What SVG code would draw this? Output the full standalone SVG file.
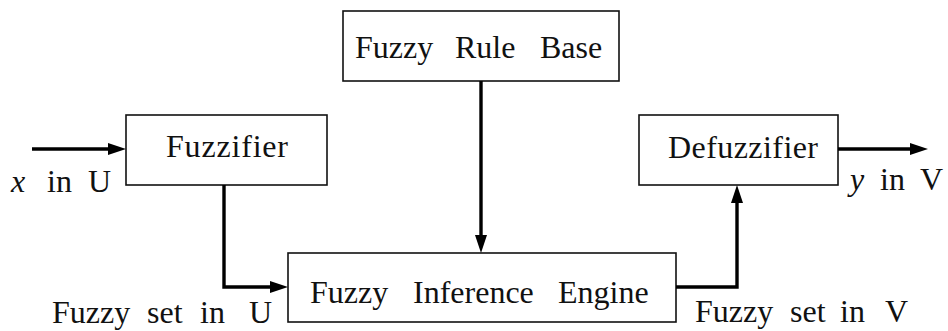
<svg xmlns="http://www.w3.org/2000/svg" width="948" height="331" viewBox="0 0 948 331">
  <style>
    .box { fill: #ffffff; stroke: #111111; stroke-width: 1.6; }
    .lbl { font-family: "Liberation Serif", "Times New Roman", serif; font-size: 32px; fill: #111111; }
    .math { font-style: italic; }
    .wire { fill: none; stroke: #000000; stroke-width: 3.4; stroke-linejoin: miter; }
  </style>
  <defs>
    <marker id="arrow" markerUnits="userSpaceOnUse" markerWidth="20" markerHeight="14" refX="12" refY="6" orient="auto">
      <path d="M0,0 L18,6 L0,12 z" fill="#000000"/>
    </marker>
  </defs>

  <rect width="948" height="331" fill="#ffffff"/>

  <!-- blocks -->
  <g id="rule-base">
    <rect class="box" x="343" y="11" width="276" height="70"/>
    <text class="lbl" y="58"><tspan x="355">Fuzzy</tspan><tspan x="455">Rule</tspan><tspan x="540">Base</tspan></text>
  </g>

  <g id="fuzzifier">
    <rect class="box" x="126" y="115" width="201" height="70"/>
    <text class="lbl" x="166" y="157" textLength="122" lengthAdjust="spacing">Fuzzifier</text>
  </g>

  <g id="defuzzifier">
    <rect class="box" x="639" y="115" width="199" height="70"/>
    <text class="lbl" x="668" y="158" textLength="150" lengthAdjust="spacing">Defuzzifier</text>
  </g>

  <g id="inference-engine">
    <rect class="box" x="288" y="253" width="388" height="69"/>
    <text class="lbl" y="303"><tspan x="310">Fuzzy</tspan><tspan x="413">Inference</tspan><tspan x="558">Engine</tspan></text>
  </g>

  <!-- signal paths -->
  <g id="connectors">
    <path class="wire" d="M32,149 L120,149" marker-end="url(#arrow)"/>
    <path class="wire" d="M224,185 L224,287 L282,287" marker-end="url(#arrow)"/>
    <path class="wire" d="M481,81 L481,247" marker-end="url(#arrow)"/>
    <path class="wire" d="M676,287 L737,287 L737,191" marker-end="url(#arrow)"/>
    <path class="wire" d="M838,149 L922,149" marker-end="url(#arrow)"/>
  </g>

  <!-- signal labels -->
  <g id="labels">
    <text class="lbl" y="192"><tspan class="math" x="11">x</tspan><tspan x="47">in</tspan><tspan x="88">U</tspan></text>
    <text class="lbl" y="190"><tspan class="math" x="850">y</tspan><tspan x="880">in</tspan><tspan x="920">V</tspan></text>
    <text class="lbl" y="323"><tspan x="52">Fuzzy</tspan><tspan x="147">set</tspan><tspan x="200">in</tspan><tspan x="249">U</tspan></text>
    <text class="lbl" y="322"><tspan x="695">Fuzzy</tspan><tspan x="790">set</tspan><tspan x="840">in</tspan><tspan x="885">V</tspan></text>
  </g>
</svg>
